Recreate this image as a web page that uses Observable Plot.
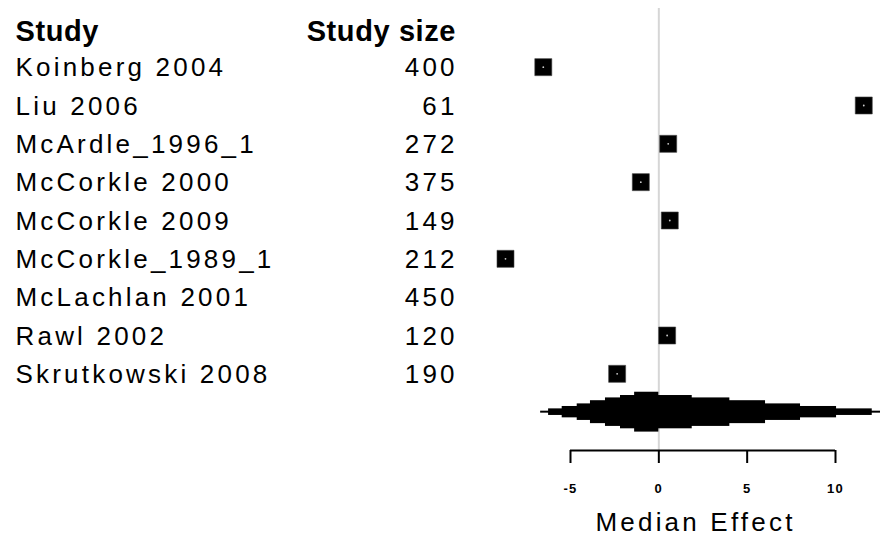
<!DOCTYPE html>
<html><head><meta charset="utf-8">
<script src="https://cdn.jsdelivr.net/npm/d3@7"></script>
<script src="https://cdn.jsdelivr.net/npm/@observablehq/plot@0.6"></script>
<style>
html,body{margin:0;padding:0;background:#fff;overflow:hidden}
g[font-size="26"] text{letter-spacing:3.2px}
g[font-size="29"] text{letter-spacing:0.6px}
g[font-size="13"] text{letter-spacing:1.2px}
</style></head><body><div id="chart"></div>
<script>
// ---- data ----
const studies = ["Koinberg 2004","Liu 2006","McArdle_1996_1","McCorkle 2000","McCorkle 2009","McCorkle_1989_1","McLachlan 2001","Rawl 2002","Skrutkowski 2008"];
const studySizes = [400, 61, 272, 375, 149, 212, 450, 120, 190];
const medianEffects = [-6.54, 11.6, 0.53, -1.02, 0.62, -8.68, null, 0.47, -2.36];
// summary distribution shape: nested intervals with relative thickness
const summaryLower = [-1.37, -2.17, -3.02, -3.87, -4.62, -5.47, -6.24, -6.69];
const summaryUpper = [0.0, 1.89, 4.02, 6.04, 8.02, 10.06, 12.08, 13.0];
const summaryDensity = [1.0, 0.835, 0.715, 0.575, 0.415, 0.285, 0.165, 0.05];
const tickValues = [-5, 0, 5, 10];
const headers = ["Study", "Study size"];
const axisLabel = "Median Effect";

// ---- derived tables ----
const rows = studies.map((s, i) => ({study: s, size: studySizes[i], effect: medianEffects[i], row: i}));
const pts = rows.filter(d => d.effect != null);
const summaryRow = studies.length;
const axisRow = summaryRow + 1;
const summary = summaryLower.map((lo, i) => ({lo, hi: summaryUpper[i], dens: summaryDensity[i]}));
const HALF = 0.52;
const yTop = -1.53;
const ROWPX = (450 - 8) / (axisRow - yTop);
const font = "'Liberation Sans', Arial, Helvetica, sans-serif";

const plot = Plot.plot({
  width: 880, height: 549,
  marginTop: 8, marginBottom: 99, marginLeft: 510, marginRight: 0,
  style: {fontFamily: font, color: "#000", background: "#fff"},
  x: {domain: [-5, 10], range: [570, 835], axis: null},
  y: {domain: [yTop, axisRow], range: [8, 450], axis: null},
  marks: [
    Plot.ruleX([0], {y1: () => yTop, y2: () => axisRow, stroke: "#d6d6d6", strokeWidth: 2}),
    Plot.rect(summary, {x1: "lo", x2: "hi", y1: d => summaryRow - d.dens * HALF, y2: d => summaryRow + d.dens * HALF, fill: "#000"}),
    Plot.dot(pts, {x: "effect", y: "row", symbol: "square", r: 9.6, fill: "#000", stroke: "#444", strokeWidth: 0.6}),
    Plot.dot(pts, {x: "effect", y: "row", r: 0.9, fill: "#ccc"}),
    Plot.ruleY([axisRow], {x1: () => d3.min(tickValues), x2: () => d3.max(tickValues), stroke: "#000", strokeWidth: 2}),
    Plot.ruleX(tickValues, {y1: () => axisRow, y2: () => axisRow + 13 / ROWPX, stroke: "#000", strokeWidth: 2}),
    Plot.text(tickValues, {x: d => d, y: () => axisRow, dy: 38, text: d => String(d), fontSize: 13, fontWeight: "bold", fill: "#000"}),
    Plot.text([axisLabel], {frameAnchor: "bottom", dy: 80, text: d => d, fontSize: 26, fill: "#000"}),
    Plot.text([headers[0]], {y: () => -1, frameAnchor: "left", textAnchor: "start", dx: -495, dy: 3, text: d => d, fontSize: 29, fontWeight: "bold", fill: "#000"}),
    Plot.text([headers[1]], {y: () => -1, frameAnchor: "left", textAnchor: "end", dx: -55 + 0.6, dy: 3, text: d => d, fontSize: 29, fontWeight: "bold", fill: "#000"}),
    Plot.text(rows, {y: "row", frameAnchor: "left", textAnchor: "start", dx: -495, dy: 1, text: "study", fontSize: 26, fill: "#000"}),
    Plot.text(rows, {y: "row", frameAnchor: "left", textAnchor: "end", dx: -56 + 3.2, dy: 1, text: d => String(d.size), fontSize: 26, fill: "#000"})
  ]
});
document.getElementById("chart").appendChild(plot);
</script>
</body></html>
